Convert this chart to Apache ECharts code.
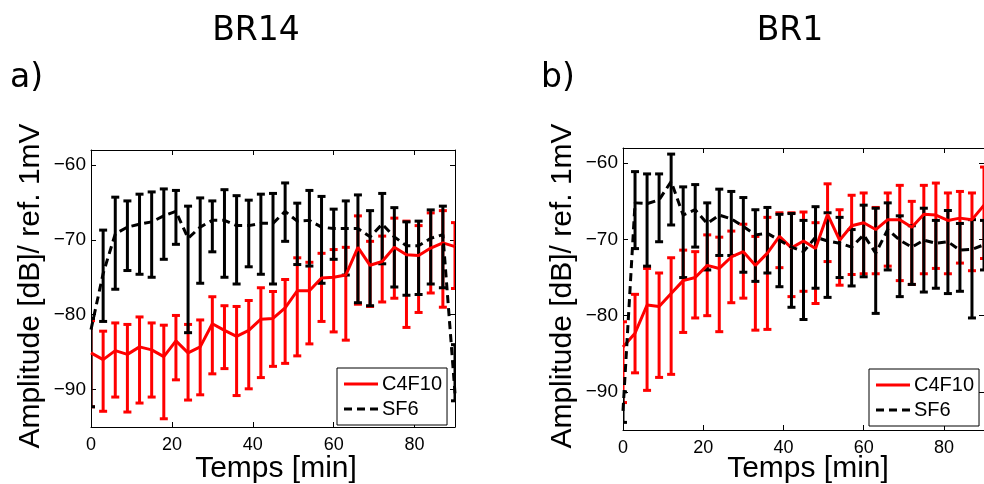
<!DOCTYPE html>
<html>
<head>
<meta charset="utf-8">
<script src="https://cdn.jsdelivr.net/npm/echarts@6/dist/echarts.min.js"></script>
<style>
html,body{margin:0;padding:0;background:#fff;}
#chart{width:984px;height:484px;}
</style>
</head>
<body>
<div id="chart"></div>
<script>
// Time (min)
var time = [0,3,6,9,12,15,18,21,24,27,30,33,36,39,42,45,48,51,54,57,60,63,66,69,72,75,78,81,84,87,90];
var xTicks = [0,20,40,60,80];
var yTicks = [-90,-80,-70,-60];

// BR14 - C4F10
var br14C4Mean = [-85.1,-86.0,-84.8,-85.3,-84.3,-84.7,-85.6,-83.5,-85.1,-84.3,-81.2,-82.1,-82.9,-82.1,-80.6,-80.5,-79.1,-76.8,-76.8,-75.1,-75.0,-74.7,-71.0,-73.4,-72.9,-71.0,-72.0,-72.1,-71.1,-70.4,-70.9];
var br14C4High = [-80.8,-82.2,-81.1,-81.3,-80.3,-81.1,-81.4,-80.1,-81.3,-80.7,-77.6,-78.8,-78.9,-78.1,-76.4,-76.9,-75.3,-72.4,-73.0,-71.8,-71.3,-71.0,-66.8,-70.2,-69.5,-67.1,-67.5,-68.1,-66.4,-66.1,-67.7];
var br14C4Low  = [-92.3,-92.9,-91.0,-93.0,-91.8,-91.0,-93.9,-88.7,-91.4,-90.7,-87.9,-87.2,-90.8,-89.9,-88.4,-86.9,-86.5,-85.5,-83.9,-80.9,-82.3,-83.4,-78.6,-78.9,-78.3,-77.8,-81.7,-79.7,-77.1,-79.0,-76.5];
// BR14 - SF6
var br14SfMean = [-82.0,-74.5,-69.2,-68.3,-67.9,-67.6,-66.8,-66.2,-69.8,-68.3,-67.4,-67.4,-68.1,-68.1,-67.8,-67.8,-66.2,-67.5,-67.4,-68.3,-68.5,-68.5,-68.5,-69.6,-67.9,-69.6,-70.8,-70.8,-69.8,-69.3,-90.5];
var br14SfHigh = [-80.5,-68.7,-64.3,-64.8,-63.9,-63.6,-63.2,-63.4,-65.5,-64.4,-64.8,-63.3,-64.1,-64.7,-63.9,-63.8,-62.4,-65.1,-63.4,-64.2,-65.9,-64.8,-64.0,-66.1,-63.8,-65.7,-67.6,-67.5,-66.0,-65.5,-84.0];
var br14SfLow  = [-92.3,-80.9,-76.6,-74.1,-74.6,-75.0,-72.6,-70.6,-82.4,-75.8,-71.6,-75.0,-75.9,-73.6,-74.6,-75.9,-70.2,-73.3,-73.5,-75.8,-72.6,-74.7,-78.4,-78.8,-73.2,-76.3,-77.4,-77.3,-75.9,-76.4,-91.5];

// BR1 - C4F10
var br1C4Mean = [-84.1,-82.3,-78.6,-78.8,-77.1,-75.4,-75.0,-73.4,-73.8,-72.3,-71.6,-73.4,-71.8,-69.6,-71.1,-70.2,-71.2,-66.7,-70.1,-68.2,-67.8,-68.7,-67.4,-67.4,-68.4,-66.7,-66.8,-67.5,-67.2,-67.4,-65.5];
var br1C4High = [-80.8,-77.2,-73.8,-74.4,-72.4,-71.4,-71.6,-69.4,-69.7,-68.9,-68.0,-69.6,-67.1,-66.5,-66.5,-66.4,-67.8,-62.7,-66.1,-64.2,-63.9,-65.8,-63.9,-62.9,-65.0,-62.9,-62.6,-63.9,-63.7,-63.9,-60.5];
var br1C4Low  = [-91.4,-87.5,-89.8,-88.1,-87.7,-82.2,-80.3,-80.0,-82.1,-78.3,-77.7,-81.9,-81.8,-73.7,-77.5,-76.8,-78.4,-72.9,-76.0,-74.6,-74.5,-74.5,-73.5,-75.4,-75.9,-74.5,-73.8,-74.5,-73.1,-74.1,-72.5];
// BR1 - SF6
var br1SfMean = [-92.5,-65.2,-65.3,-64.8,-62.4,-66.8,-66.1,-67.9,-66.8,-67.3,-68.3,-69.4,-69.2,-70.1,-71.0,-71.6,-69.7,-70.2,-70.5,-71.0,-69.4,-71.8,-68.7,-70.1,-71.0,-70.1,-70.5,-70.3,-71.4,-71.3,-70.7];
var br1SfHigh = [-90.0,-61.1,-61.4,-61.4,-58.8,-63.1,-62.8,-65.2,-63.4,-63.7,-64.5,-66.1,-65.8,-66.7,-66.6,-67.5,-65.7,-66.5,-67.1,-68.7,-65.5,-65.9,-65.2,-66.9,-68.2,-65.9,-67.5,-66.2,-67.9,-67.4,-67.5];
var br1SfLow  = [-94.0,-71.2,-73.5,-70.3,-68.1,-75.0,-71.0,-74.0,-72.1,-72.1,-74.3,-75.5,-74.4,-76.2,-78.9,-80.5,-76.4,-77.6,-75.0,-76.1,-74.9,-79.7,-74.0,-77.5,-75.9,-76.9,-76.4,-77.1,-76.8,-80.3,-74.0];

var panelTitles = ['BR14','BR1'];
var panelTags = ['a)','b)'];
var seriesNames = ['C4F10','SF6'];
var xName = 'Temps [min]';
var yName = 'Amplitude [dB]/ ref. 1mV';

var RED = '#ff0000', BLACK = '#000000';
var AXFONT = 'Liberation Sans, Arial, sans-serif';
var TFONT = 'DejaVu Sans, sans-serif';

function pairs(m){ return time.map(function(t,i){ return [t, m[i]]; }); }
function triples(lo,hi){ return time.map(function(t,i){ return [t, lo[i], hi[i]]; }); }

function makeErr(color){
  return function(params, api){
    var x = api.value(0);
    var lo = api.coord([x, api.value(1)]);
    var hi = api.coord([x, api.value(2)]);
    var cw = 4;
    var st = {stroke: color, lineWidth: 3, fill: null};
    return {type:'group', children:[
      {type:'line', shape:{x1:hi[0], y1:hi[1], x2:lo[0], y2:lo[1]}, style:st},
      {type:'line', shape:{x1:hi[0]-cw, y1:hi[1], x2:hi[0]+cw, y2:hi[1]}, style:st},
      {type:'line', shape:{x1:lo[0]-cw, y1:lo[1], x2:lo[0]+cw, y2:lo[1]}, style:st}
    ]};
  };
}

var grids = [
  {left:91, top:150, width:364, height:277},
  {left:623, top:148, width:364, height:282}
];

function xAx(g, pos, labels){
  return {gridIndex:g, type:'value', position:pos, min:0, max:90,
    axisLine:{show:true, onZero:false, lineStyle:{color:BLACK, width:1}},
    axisTick:{show:true, inside:true, length:5, customValues:xTicks, lineStyle:{color:BLACK}},
    axisLabel:{show:labels, customValues:xTicks, color:BLACK, fontFamily:AXFONT, fontSize:18, margin:9},
    splitLine:{show:false}};
}
function yAx(g, pos, labels){
  return {gridIndex:g, type:'value', position:pos, min:-95, max:-58,
    axisLine:{show:true, onZero:false, lineStyle:{color:BLACK, width:1}},
    axisTick:{show:true, inside:true, length:5, customValues:yTicks, lineStyle:{color:BLACK}},
    axisLabel:{show:labels, customValues:yTicks, color:BLACK, fontFamily:AXFONT, fontSize:19, margin:5,
      formatter:function(v){ return v < 0 ? '\u2212' + Math.abs(v) : String(v); }},
    splitLine:{show:false}};
}

function panelSeries(g, c4m, c4h, c4l, sfm, sfh, sfl){
  return [
    {name:seriesNames[0]+' err', type:'custom', xAxisIndex:g, yAxisIndex:g, clip:true,
      renderItem:makeErr(RED), encode:{x:0, y:[1,2]}, data:triples(c4l,c4h), silent:true},
    {name:seriesNames[0], type:'line', xAxisIndex:g, yAxisIndex:g, symbol:'none', clip:true,
      lineStyle:{color:RED, width:3}, itemStyle:{color:RED}, data:pairs(c4m), silent:true},
    {name:seriesNames[1]+' err', type:'custom', xAxisIndex:g, yAxisIndex:g, clip:true,
      renderItem:makeErr(BLACK), encode:{x:0, y:[1,2]}, data:triples(sfl,sfh), silent:true},
    {name:seriesNames[1], type:'line', xAxisIndex:g, yAxisIndex:g, symbol:'none', clip:true,
      lineStyle:{color:BLACK, width:3, type:[8,5]}, itemStyle:{color:BLACK}, data:pairs(sfm), silent:true}
  ];
}

var solidIcon = 'path://M0,0h34v3h-34z';
var dashIcon = 'path://M0,0h8v3h-8zM13,0h8v3h-8zM26,0h8v3h-8z';

function legendFor(left, top){
  return {left:left, top:top, orient:'vertical',
    data:[{name:seriesNames[0], icon:solidIcon, itemStyle:{color:RED}},
          {name:seriesNames[1], icon:dashIcon, itemStyle:{color:BLACK}}],
    backgroundColor:'#fff', borderColor:BLACK, borderWidth:1, borderRadius:0,
    padding:[5,5,5,7], itemGap:3, itemWidth:34, itemHeight:3, symbolKeepAspect:false,
    textStyle:{color:BLACK, fontFamily:AXFONT, fontSize:20, lineHeight:22, padding:[0,0,0,-1]},
    selectedMode:false};
}

var graphics = [];
var titleX = [256, 790];
var tagX = [10, 541];
var yLabX = [31, 563];
for (var k=0;k<2;k++){
  graphics.push({type:'text', x:titleX[k], y:31, style:{text:panelTitles[k], font:'33px ' + TFONT, fill:BLACK, align:'center', verticalAlign:'middle'}});
  graphics.push({type:'text', x:tagX[k], y:78, style:{text:panelTags[k], font:'33px ' + TFONT, fill:BLACK, align:'left', verticalAlign:'middle'}});
  graphics.push({type:'text', x:(k===0?276:808), y:469, style:{text:xName, font:'30px ' + AXFONT, fill:BLACK, align:'center', verticalAlign:'middle'}});
  graphics.push({type:'text', x:yLabX[k], y:286, rotation:Math.PI/2, style:{text:yName, font:'30px ' + AXFONT, fill:BLACK, align:'center', verticalAlign:'middle'}});
}

var chart = echarts.init(document.getElementById('chart'), null, {renderer:'canvas'});
chart.setOption({
  animation:false,
  backgroundColor:'#fff',
  grid: grids.map(function(g){ return {left:g.left, top:g.top, width:g.width, height:g.height, containLabel:false}; }),
  xAxis:[xAx(0,'bottom',true), xAx(1,'bottom',true), xAx(0,'top',false), xAx(1,'top',false)],
  yAxis:[yAx(0,'left',true), yAx(1,'left',true), yAx(0,'right',false), yAx(1,'right',false)],
  legend:[legendFor(337,368), legendFor(869,369)],
  series: panelSeries(0, br14C4Mean, br14C4High, br14C4Low, br14SfMean, br14SfHigh, br14SfLow)
    .concat(panelSeries(1, br1C4Mean, br1C4High, br1C4Low, br1SfMean, br1SfHigh, br1SfLow)),
  graphic: graphics
});
</script>
</body>
</html>
